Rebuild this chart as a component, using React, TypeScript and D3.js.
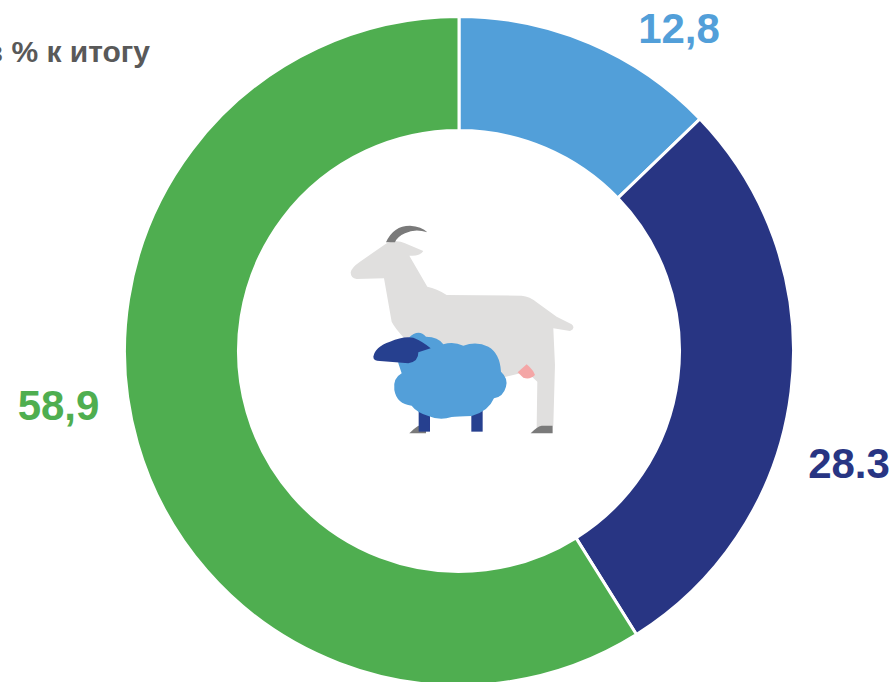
import React from "react";
import * as d3 from "d3";

const categories = ["a", "b", "c"];
const values = [12.8, 28.3, 58.9];
const labels = ["12,8", "28.3", "58,9"];
const colors = ["#529fd9", "#283583", "#4fae50"];
const title = "в % к итогу";

const W = 894, H = 682, cx = 459, cy = 351, R = 334.5, r = 220.5;
const labelPos: [number, number][] = [[679, 43], [849, 478], [58.5, 420]];

export default function App() {
  const pie = d3.pie<number>().sort(null)(values);
  const arc = d3.arc<d3.PieArcDatum<number>>().innerRadius(r).outerRadius(R);
  return (
    <svg width={W} height={H} viewBox={`0 0 ${W} ${H}`}
      style={{ position: "absolute", left: 0, top: 0, display: "block" }}>
      <defs>
        <filter id="soft" x="-5%" y="-5%" width="110%" height="110%">
          <feGaussianBlur stdDeviation="1.8" />
        </filter>
      </defs>
      <g transform={`translate(${cx},${cy})`}>
        {pie.map((d, i) => (
          <path key={categories[i]} d={arc(d) as string} fill={colors[i]} stroke="#fff" strokeWidth={3} />
        ))}
      </g>
      <g transform="translate(340,215) scale(0.3333)" filter="url(#soft)">
        <path fill="#e0dfde" d="M32 172 Q34 158 60 140 L140 85 Q170 72 195 85 L250 108 Q240 125 208 122 L262 215 Q290 220 320 240 L545 242 Q570 244 590 262 L650 305 L695 328 Q708 340 690 348 L640 340 L645 450 L640 632 L590 640 L592 500 L560 470 L480 490 L300 560 L235 560 L215 400 L195 372 Q165 340 155 320 L132 190 L50 192 Q32 190 32 172 Z" />
        <path fill="#7a7a7a" d="M138 82 Q160 32 210 32 Q245 34 262 52 Q225 40 195 55 Q172 65 165 82 Z" />
        <path fill="#f4a6a6" d="M533 472 L560 448 Q580 465 585 480 Q570 495 550 488 Z" />
        <path fill="#7a7a7a" d="M572 655 Q590 635 605 632 L638 632 L638 655 Z" />
        <path fill="#7a7a7a" d="M208 655 Q222 640 235 632 L258 640 L258 655 Z" />
        <rect x="236" y="585" width="34" height="65" fill="#283f8f" />
        <rect x="394" y="585" width="34" height="65" fill="#283f8f" />
        <path fill="#529fd9" d="M175 445 Q170 405 205 370 Q235 340 258 365 Q295 365 310 388 Q340 378 370 392 Q410 378 445 395 Q480 415 483 470 Q505 490 498 515 Q490 545 462 550 Q445 590 395 603 Q350 605 335 606 Q300 618 265 603 Q230 592 215 572 Q170 567 163 525 Q158 490 185 475 Z" />
        <path fill="#283f8f" d="M100 425 Q105 395 150 380 Q190 362 220 368 Q250 380 272 400 L235 412 Q236 440 205 445 L120 438 Q100 438 100 425 Z" />
      </g>
      {labels.map((t, i) => (
        <text key={t} x={labelPos[i][0]} y={labelPos[i][1]} textAnchor="middle"
          fontFamily="'Liberation Sans', Arial, sans-serif" fontWeight={700} fontSize={42} fill={colors[i]}>{t}</text>
      ))}
      <text x={150} y={62} textAnchor="end" fontFamily="'Liberation Sans', Arial, sans-serif"
        fontWeight={700} fontSize={30} fill="#595959">{title}</text>
    </svg>
  );
}
